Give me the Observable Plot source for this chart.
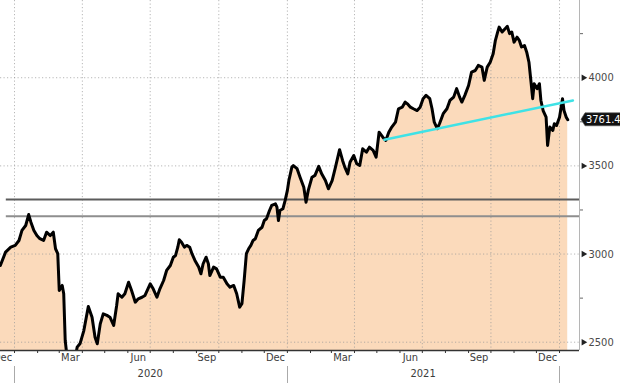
<!DOCTYPE html>
<html><head><meta charset="utf-8">
<script src="https://cdn.jsdelivr.net/npm/d3@7"></script>
<script src="https://cdn.jsdelivr.net/npm/@observablehq/plot@0.6"></script>
<style>
html,body{margin:0;padding:0;background:#fff;}
#chart{width:620px;height:383px;overflow:hidden;}
</style></head><body><div id="chart"></div>
<script>
const dates = [
"2019-12-13","2019-12-20","2019-12-27","2020-01-02","2020-01-07","2020-01-11","2020-01-16","2020-01-20","2020-01-23","2020-01-27",
"2020-01-31","2020-02-04","2020-02-09","2020-02-13","2020-02-18","2020-02-22","2020-02-25","2020-02-28","2020-03-01","2020-03-05",
"2020-03-07","2020-03-09","2020-03-12","2020-03-17","2020-03-23","2020-03-25","2020-03-29","2020-04-03","2020-04-09","2020-04-14",
"2020-04-18","2020-04-21","2020-04-25","2020-04-29","2020-05-04","2020-05-08","2020-05-13","2020-05-17","2020-05-19","2020-05-24",
"2020-05-28","2020-06-02","2020-06-06","2020-06-11","2020-06-15","2020-06-20","2020-06-24","2020-07-01","2020-07-05","2020-07-10",
"2020-07-14","2020-07-19","2020-07-23","2020-07-28","2020-08-01","2020-08-04","2020-08-07","2020-08-09","2020-08-12","2020-08-16",
"2020-08-19","2020-08-23","2020-08-26","2020-08-30","2020-09-04","2020-09-07","2020-09-10","2020-09-14","2020-09-17","2020-09-19",
"2020-09-24","2020-09-28","2020-10-03","2020-10-07","2020-10-12","2020-10-16","2020-10-21","2020-10-25","2020-10-29","2020-11-01",
"2020-11-04","2020-11-07","2020-11-10","2020-11-13","2020-11-16","2020-11-19","2020-11-23","2020-11-28","2020-12-01","2020-12-04",
"2020-12-08","2020-12-11","2020-12-16","2020-12-18","2020-12-20","2020-12-22","2020-12-26","2020-12-29","2021-01-01","2021-01-03",
"2021-01-07","2021-01-09","2021-01-14","2021-01-18","2021-01-23","2021-01-26","2021-01-29","2021-02-03","2021-02-07","2021-02-12",
"2021-02-16","2021-02-21","2021-02-25","2021-03-02","2021-03-06","2021-03-12","2021-03-16","2021-03-19","2021-03-23","2021-03-26",
"2021-03-31","2021-04-04","2021-04-08","2021-04-12","2021-04-17","2021-04-21","2021-04-26","2021-04-30","2021-05-04","2021-05-09",
"2021-05-13","2021-05-17","2021-05-21","2021-05-26","2021-05-30","2021-06-04","2021-06-08","2021-06-11","2021-06-15","2021-06-19",
"2021-06-24","2021-06-28","2021-07-02","2021-07-06","2021-07-11","2021-07-14","2021-07-17","2021-07-21","2021-07-24","2021-07-29",
"2021-08-03","2021-08-07","2021-08-12","2021-08-16","2021-08-20","2021-08-23","2021-08-27","2021-09-01","2021-09-05","2021-09-10",
"2021-09-14","2021-09-19","2021-09-22","2021-09-26","2021-09-30","2021-10-04","2021-10-07","2021-10-10","2021-10-12","2021-10-16",
"2021-10-20","2021-10-23","2021-10-26","2021-10-29","2021-11-01","2021-11-05","2021-11-08","2021-11-11","2021-11-15","2021-11-18",
"2021-11-21","2021-11-24","2021-11-26","2021-11-28","2021-12-02","2021-12-05","2021-12-07","2021-12-10","2021-12-14","2021-12-16",
"2021-12-19","2021-12-23","2021-12-25","2021-12-28","2022-01-01","2022-01-05","2022-01-07","2022-01-10","2022-01-12"
];
const values = [
2935,3011,3039,3049,3077,3134,3162,3224,3181,3134,
3105,3087,3077,3124,3105,3124,3030,3003,2793,2822,
2775,2510,2396,2370,2425,2472,2493,2566,2703,2642,
2528,2491,2604,2661,2652,2642,2595,2708,2775,2755,
2775,2840,2793,2727,2746,2755,2765,2831,2803,2755,
2803,2850,2907,2935,2982,2992,3039,3081,3067,3039,
3049,3039,3002,2964,2926,2888,2945,2982,2945,2878,
2926,2916,2869,2869,2831,2812,2822,2775,2699,2718,
2850,3002,3030,3049,3077,3087,3134,3152,3190,3200,
3247,3276,3285,3266,3190,3247,3257,3304,3361,3417,
3493,3502,3484,3436,3379,3294,3361,3436,3446,3497,
3455,3417,3370,3417,3484,3592,3531,3493,3455,3521,
3559,3512,3502,3597,3578,3606,3588,3550,3691,3663,
3644,3691,3720,3748,3824,3833,3862,3852,3833,3824,
3814,3833,3881,3900,3881,3824,3748,3711,3739,3796,
3824,3871,3890,3938,3890,3862,3900,3956,4032,4041,
4070,4060,3985,4060,4088,4136,4212,4259,4287,4259,
4278,4291,4250,4259,4202,4230,4212,4174,4183,4145,
4088,3966,3881,3966,3938,3966,3871,3814,3776,3616,
3720,3701,3739,3729,3776,3881,3814,3776,3761.4
];
const lastValue = 3761.4;
const yTicks = [2500, 3000, 3500, 4000];
const yMinorTicks = [2750, 3250, 3750, 4250];
const monthLabels = ["Dec","Mar","Jun","Sep","Dec","Mar","Jun","Sep","Dec"];
const monthLabelDates = ["2019-12-16","2020-03-16","2020-06-15","2020-09-15","2020-12-16","2021-03-16","2021-06-15","2021-09-15","2021-12-16"];
const yearLabels = ["2020","2021"];
const yearLabelDates = ["2020-07-01","2021-07-02"];
const yearStarts = ["2020-01-01","2021-01-01","2022-01-01"];
const gridDates = ["2020-01-01","2020-04-01","2020-07-01","2020-10-01","2021-01-01","2021-04-01","2021-07-01","2021-10-01","2022-01-01"];
const supportLevels = [3309, 3215];
const supportStart = "2019-12-21";
const trendDates = ["2021-05-11","2022-01-19"];
const trendValues = [3648, 3871];
const xDomain = ["2019-12-13T05:00Z","2022-01-27T19:00Z"];
const yDomain = [2453, 4438];

const data = dates.map((d, i) => ({date: new Date(d), value: values[i]}));
const trend = trendDates.map((d, i) => ({date: new Date(d), value: trendValues[i]}));
const xStart = new Date(xDomain[0]), xEnd = new Date(xDomain[1]);
const monthStarts = d3.utcMonth.range(new Date("2020-01-01"), new Date("2022-01-02"));
const FONT = "DejaVu Sans Condensed, DejaVu Sans, sans-serif";
const gridStyle = {stroke: "#999", strokeOpacity: 0.7, strokeDasharray: "1.2,2.3", strokeWidth: 1};

const plot = Plot.plot({
  width: 620, height: 383,
  marginLeft: 0, marginRight: 41, marginTop: 0, marginBottom: 33,
  style: {fontFamily: FONT, fontSize: "11px", background: "#fff", overflow: "visible"},
  x: {type: "utc", domain: [xStart, xEnd]},
  y: {domain: yDomain},
  marks: [
    Plot.areaY(data, {x: "date", y1: yDomain[0], y2: "value", fill: "#fbdabb", clip: true}),
    Plot.ruleY(yTicks, {...gridStyle}),
    Plot.ruleX(gridDates.map(d => new Date(d)), {...gridStyle}),
    Plot.ruleY([supportLevels[0]], {x1: () => new Date(supportStart), x2: () => xEnd, stroke: "#5c5c5c", strokeWidth: 2}),
    Plot.ruleY([supportLevels[1]], {x1: () => new Date(supportStart), x2: () => xEnd, stroke: "#8e8e8e", strokeWidth: 2}),
    Plot.lineY(data, {x: "date", y: "value", stroke: "#000", strokeWidth: 3, strokeLinejoin: "round", clip: true}),
    Plot.line(trend, {x: "date", y: "value", stroke: "#3fe2e6", strokeWidth: 2.4}),
    Plot.ruleX([xEnd], {stroke: "#b5b5b5", strokeWidth: 1}),
    Plot.ruleY([yDomain[0]], {stroke: "#333", strokeWidth: 1.5}),
    Plot.axisX({ticks: monthStarts, tickSize: 3, tickFormat: () => "", label: null, stroke: "#333"}),
    Plot.text(monthLabelDates, {x: d => new Date(d), text: (d, i) => monthLabels[i], frameAnchor: "bottom", dy: 10, fill: "#3c3c3c", fontSize: 11}),
    Plot.text(yearLabelDates, {x: d => new Date(d), text: (d, i) => yearLabels[i], frameAnchor: "bottom", dy: 26, fill: "#3c3c3c", fontSize: 11}),
    Plot.axisY({anchor: "right", ticks: yMinorTicks, tickSize: 3, tickFormat: () => "", label: null, stroke: "#666"}),
    Plot.axisY({anchor: "right", ticks: yTicks, tickSize: 0, tickPadding: 9, tickFormat: d => String(d), label: null, fill: "#4a4a4a", fontSize: 11}),
    Plot.dot(yTicks, {x: () => xEnd, y: d => d, symbol: "triangle", r: 2.4, rotate: 90, dx: 4, fill: "#222", stroke: "none"})
  ]
});

document.getElementById("chart").appendChild(plot);

// year separators and last-value tag, positioned through the plot's own scales
const sx = plot.scale("x"), sy = plot.scale("y");
const svg = d3.select(plot);
const g = svg.append("g");
yearStarts.forEach(d => {
  const x = Math.round(sx.apply(new Date(d))) + 0.5;
  g.append("line").attr("x1", x).attr("x2", x).attr("y1", 366).attr("y2", 383)
    .attr("stroke", "#aaa").attr("stroke-width", 1);
});
const xr = sx.apply(xEnd);
const yc = sy.apply(lastValue);
g.append("path")
  .attr("d", `M${xr + 2},${yc} L${xr + 6},${yc - 6.5} L${xr + 60},${yc - 6.5} L${xr + 60},${yc + 6.5} L${xr + 6},${yc + 6.5} Z`)
  .attr("fill", "#111").attr("stroke", "#555").attr("stroke-width", 0.6).attr("stroke-linejoin", "round");
g.append("text").attr("x", xr + 7).attr("y", yc).attr("dy", "0.35em")
  .attr("text-anchor", "start")
  .attr("fill", "#fff").attr("font-family", FONT).attr("font-size", 11)
  .text(String(lastValue));
</script>
</body></html>
